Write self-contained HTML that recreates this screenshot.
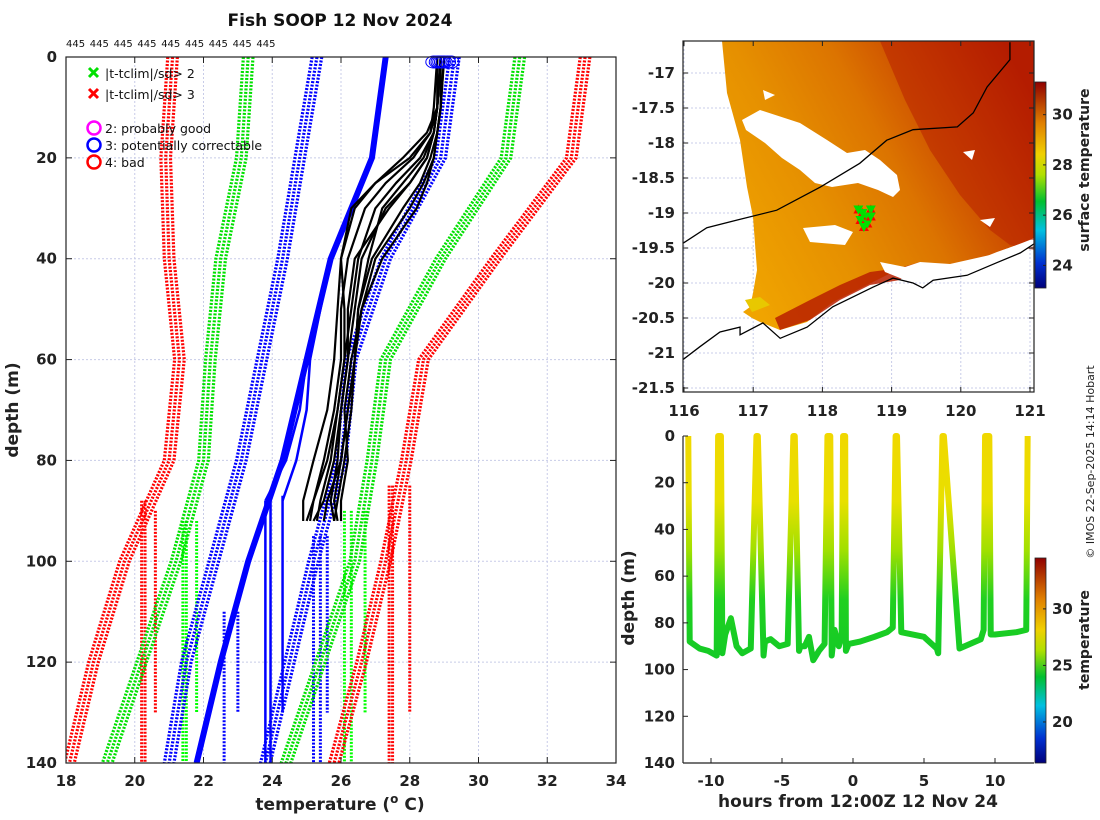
<!DOCTYPE html>
<html><head><meta charset="utf-8"><style>
html,body{margin:0;padding:0;background:#fff;}
svg{display:block;font-family:"DejaVu Sans","Liberation Sans",sans-serif;}
.tk{font-size:15px;font-weight:bold;fill:#222;}
</style></head><body>
<svg id="fig" width="1100" height="820" viewBox="0 0 1100 820" xmlns="http://www.w3.org/2000/svg">
<defs>
<linearGradient id="sstg" x1="0" y1="0.7" x2="1" y2="0.2">
<stop offset="0" stop-color="#f0a400"/><stop offset="0.3" stop-color="#e69000"/><stop offset="0.55" stop-color="#dc7400"/><stop offset="0.75" stop-color="#cc4c00"/><stop offset="1" stop-color="#b01800"/>
</linearGradient>
<linearGradient id="cb1" x1="0" y1="1" x2="0" y2="0">
<stop offset="0" stop-color="#00007a"/><stop offset="0.12" stop-color="#0030d0"/><stop offset="0.28" stop-color="#00c0e0"/><stop offset="0.42" stop-color="#00c030"/><stop offset="0.55" stop-color="#b0e000"/><stop offset="0.65" stop-color="#f0d000"/><stop offset="0.8" stop-color="#e08000"/><stop offset="1" stop-color="#900000"/>
</linearGradient>
<linearGradient id="tsg" gradientUnits="userSpaceOnUse" x1="0" y1="436" x2="0" y2="763">
<stop offset="0" stop-color="#f0d800"/><stop offset="0.2" stop-color="#e8e000"/><stop offset="0.35" stop-color="#a0e000"/><stop offset="0.5" stop-color="#20d020"/><stop offset="1" stop-color="#00c030"/>
</linearGradient>
</defs>
</svg>
<script>
// ---------- left panel data ----------
const xTicks=[18,20,22,24,26,28,30,32,34];
const yTicks=[0,20,40,60,80,100,120,140];
const climDepths=[0,20,40,60,80,100,120,140];
const redLeft=[21.1,20.9,21.0,21.3,21.0,19.7,18.8,18.1];
const redRight=[33.1,32.7,30.5,28.4,27.9,27.3,26.6,25.8];
const greenLeft=[23.3,23.1,22.5,22.2,22.0,21.2,20.2,19.2];
const greenRight=[31.2,30.8,28.9,27.3,26.9,26.4,25.4,24.4];
const blueLeft=[25.3,24.8,24.3,23.7,23.1,22.3,21.5,21.0];
const blueRight=[29.3,28.9,27.3,26.3,26.0,25.2,24.5,23.8];
const blueMean=[27.3,26.9,25.7,25.0,24.3,23.3,22.5,21.8];
const thinDepths=[0,20,40,60,70,80,88];
const thinBlueA=[27.3,26.9,25.7,25.0,24.8,24.4,23.8];
const thinBlueB=[27.3,26.9,25.7,25.1,25.0,24.7,24.3];
const verticalTemps=[20.2,20.3,20.6,21.4,21.5,21.8,22.6,23.0,25.2,25.4,25.6,26.1,26.3,26.7,27.4,27.5,28.0];
const verticalColors=["red","red","red","lime","lime","lime","blue","blue","blue","blue","blue","lime","lime","lime","red","red","red"];
const verticalTop=[88,88,90,92,92,92,110,110,95,95,95,90,90,90,85,85,85];
const verticalBottom=[140,140,130,140,140,130,140,130,140,140,130,140,140,130,140,140,130];
const solidBlueTemps=[23.8,23.95,24.3];
const solidBlueTop=[88,88,87];
const solidBlueBottom=[140,140,130];
const castDepths=[0,10,15,20,25,30,40,50,60,70,80,88,92];
const castTemps=[
[28.9,28.8,28.7,28.5,28.0,27.3,26.6,26.4,26.2,26.0,25.8,25.5,25.2],
[28.8,28.7,28.6,28.0,27.0,26.3,26.0,26.1,26.1,25.9,25.6,25.2,25.0],
[29.0,28.9,28.8,28.7,28.5,28.2,27.2,26.6,26.4,26.3,26.1,25.9,25.8],
[28.9,28.8,28.5,27.8,27.0,26.4,26.0,25.9,25.8,25.6,25.2,24.9,24.9],
[28.9,28.9,28.8,28.6,28.3,27.8,26.9,26.5,26.4,26.2,26.0,25.8,25.9],
[28.8,28.8,28.7,28.3,27.6,27.0,26.5,26.3,26.1,25.9,25.7,25.4,25.3],
[29.0,28.9,28.8,28.7,28.4,28.0,27.0,26.6,26.3,26.1,26.2,26.0,26.0],
[28.9,28.8,28.6,28.1,27.3,26.7,26.2,26.0,26.0,25.8,25.5,25.2,25.1],
[28.9,28.8,28.7,28.5,28.0,27.4,26.4,26.2,26.2,26.0,25.9,25.7,25.8],
[28.9,28.8,28.7,28.4,27.8,27.2,26.8,26.5,26.4,26.2,26.0,25.6,25.5]
];
const castSurfTemps=[28.7,28.8,28.9,29.0,29.1,29.2,28.85,28.95];
const topLabels=["445","445","445","445","445","445","445","445","445"];
// ---------- map data ----------
const lonTicks=[116,117,118,119,120,121];
const latTicks=[-17,-17.5,-18,-18.5,-19,-19.5,-20,-20.5,-21,-21.5];
const sstTicks=[24,26,28,30];
const coastLon=[115.99,116.23,116.52,116.81,116.81,117.14,117.39,117.78,118.15,118.73,119.02,119.31,119.45,119.6,120.09,120.52,120.86,121.06];
const coastLat=[-21.09,-20.91,-20.7,-20.63,-20.74,-20.57,-20.79,-20.63,-20.34,-20.06,-19.93,-20.0,-20.07,-19.96,-19.89,-19.71,-19.57,-19.44];
const isoLon=[115.99,116.33,116.77,117.34,117.97,118.54,118.93,119.31,119.95,120.18,120.38,120.71,120.71];
const isoLat=[-19.43,-19.21,-19.1,-18.96,-18.63,-18.29,-17.96,-17.81,-17.77,-17.57,-17.2,-16.81,-16.56];
const shipLon=[118.52,118.58,118.65,118.7,118.55,118.65,118.6,118.7];
const shipLat=[-18.95,-19.0,-19.05,-18.95,-19.1,-19.15,-19.2,-19.05];
// ---------- time series data ----------
const hourTicks=[-10,-5,0,5,10];
const tsDepthTicks=[0,20,40,60,80,100,120,140];
const tsTempTicks=[20,25,30];
const trackHours=[-11.6,-11.5,-10.8,-10.2,-9.6,-9.5,-9.3,-9.2,-9.0,-8.6,-8.2,-7.8,-7.2,-6.8,-6.7,-6.3,-6.2,-5.8,-5.2,-4.6,-4.2,-4.1,-3.8,-3.7,-3.4,-3.1,-2.8,-2.4,-2.0,-1.8,-1.6,-1.5,-1.3,-1.0,-0.8,-0.7,-0.55,-0.5,-0.3,0.5,1.5,2.4,2.8,3.0,3.1,3.4,5.0,5.9,6.0,6.3,6.4,7.5,9.0,9.2,9.3,9.6,9.7,10.0,11.5,12.2,12.3];
const trackDepths=[0,88,91,92,94,0,0,93,85,78,90,93,91,0,0,94,88,87,90,89,0,0,92,90,90,86,96,92,89,0,0,94,83,90,86,0,0,92,89,88,86,84,82,0,0,84,86,91,93,0,0,91,87,83,0,0,85,85,84,83,0];

const svg=document.getElementById('fig');
const NS='http://www.w3.org/2000/svg';
function mk(tag,attrs,parent){const e=document.createElementNS(NS,tag);for(const k in attrs)e.setAttribute(k,attrs[k]);(parent||svg).appendChild(e);return e;}
function txt(s,x,y,attrs,parent){const t=mk('text',Object.assign({x:x,y:y},attrs||{}),parent);t.textContent=s;return t;}
const P=a=>a.map(p=>p[0]+','+p[1]).join(' ');

// ===== LEFT PANEL =====
const L={x0:66,x1:616,y0:57,y1:763,tmin:18,tmax:34,dmax:140};
const tx=t=>L.x0+(t-L.tmin)/(L.tmax-L.tmin)*(L.x1-L.x0);
const dy=d=>L.y0+d/L.dmax*(L.y1-L.y0);
const gL=mk('g',{});


xTicks.forEach(t=>{mk('line',{x1:tx(t),x2:tx(t),y1:L.y0,y2:L.y1,stroke:'#c8cce8','stroke-dasharray':'2,2','stroke-width':1},gL);});
yTicks.forEach(d=>{mk('line',{x1:L.x0,x2:L.x1,y1:dy(d),y2:dy(d),stroke:'#c8cce8','stroke-dasharray':'2,2','stroke-width':1},gL);});
const clip=mk('clipPath',{id:'clipL'},gL);mk('rect',{x:L.x0,y:L.y0,width:L.x1-L.x0,height:L.y1-L.y0},clip);
const gc=mk('g',{'clip-path':'url(#clipL)'},gL);
function prof(arr,depths,color,w,dash,off,name){
  const pts=arr.map((t,i)=>tx(t+(off||0))+','+dy(depths[i])).join(' ');
  const p=mk('polyline',{points:pts,fill:'none',stroke:color,'stroke-width':w,'stroke-linejoin':'round'},gc);
  if(dash)p.setAttribute('stroke-dasharray',dash);
  
  
  return p;
}
verticalTemps.forEach((t,i)=>{
  const l=mk('line',{x1:tx(t),x2:tx(t),y1:dy(verticalTop[i]),y2:dy(verticalBottom[i]),stroke:verticalColors[i],'stroke-width':3,'stroke-dasharray':'2,1.5'},gc);
  
  
});
solidBlueTemps.forEach((t,i)=>{
  const l=mk('line',{x1:tx(t),x2:tx(t),y1:dy(solidBlueTop[i]),y2:dy(solidBlueBottom[i]),stroke:'#0000ff','stroke-width':2.5},gc);
  
  
});
[[redLeft,'red','red-clim-left'],[redRight,'red','red-clim-right'],[greenLeft,'#00e000','green-clim-left'],[greenRight,'#00e000','green-clim-right'],[blueLeft,'#0000ff','blue-clim-left'],[blueRight,'#0000ff','blue-clim-right']].forEach(s=>{
  [-0.14,0,0.14].forEach(o=>prof(s[0],climDepths,s[1],3.2,'2,1.5',o,s[2]));
});
prof(thinBlueA,thinDepths,'#0000ff',2.5,null,0,'climatology-thin-line-a');
prof(thinBlueB,thinDepths,'#0000ff',2.5,null,0,'climatology-thin-line-b');
prof(blueMean,climDepths,'#0000ff',6,null,0,'climatology-mean-line');
castTemps.forEach((c,i)=>prof(c,castDepths,'#000',2.2,null,0,'xbt-cast-'+(i+1)));
castSurfTemps.forEach((t,i)=>{
  const c=mk('ellipse',{cx:tx(t),cy:dy(0)+5,rx:8,ry:6,fill:'none',stroke:'#0000ff','stroke-width':1},gL);
  
  
});
mk('rect',{x:L.x0,y:L.y0,width:L.x1-L.x0,height:L.y1-L.y0,fill:'none',stroke:'#222','stroke-width':1.2},gL);
xTicks.forEach(t=>{mk('line',{x1:tx(t),x2:tx(t),y1:L.y1,y2:L.y1-6,stroke:'#222'},gL);mk('line',{x1:tx(t),x2:tx(t),y1:L.y0,y2:L.y0+6,stroke:'#222'},gL);
  const e=txt(String(t),tx(t),786,{class:'tk','text-anchor':'middle'},gL);});
yTicks.forEach(d=>{mk('line',{x1:L.x0,x2:L.x0+6,y1:dy(d),y2:dy(d),stroke:'#222'},gL);mk('line',{x1:L.x1,x2:L.x1-6,y1:dy(d),y2:dy(d),stroke:'#222'},gL);
  const e=txt(String(d),57,dy(d)+5,{class:'tk','text-anchor':'end'},gL);});
topLabels.forEach((s,i)=>{const e=txt(s,66+i*23.8,47,{'font-size':10,fill:'#111'},gL);});
let e=txt('Fish SOOP 12 Nov 2024',340,26,{'font-size':17,'font-weight':'bold','text-anchor':'middle',fill:'#111'});

e=txt('depth (m)',0,0,{'font-size':17,'font-weight':'bold','text-anchor':'middle',fill:'#222',transform:'translate(18,410) rotate(-90)'});

e=mk('text',{x:340,y:810,'font-size':17,'font-weight':'bold','text-anchor':'middle',fill:'#222'});
e.innerHTML='temperature (<tspan dy="-7" font-size="12">o</tspan><tspan dy="7"> C)</tspan>';

// legend
const lg=mk('g',{});

[['#00e000','|t-tclim|/sd> 2',73],['red','|t-tclim|/sd> 3',94]].forEach(a=>{
  const g=mk('g',{},lg);
  mk('path',{d:`M89,${a[2]-5} l9,9 M98,${a[2]-5} l-9,9`,stroke:a[0],'stroke-width':3},g);
  txt(a[1],105,a[2]+5,{'font-size':12.5,fill:'#111'},g);
});
[['magenta','2: probably good',128],['#0000ff','3: potentially correctable',145],['red','4: bad',162]].forEach(a=>{
  const g=mk('g',{},lg);
  mk('circle',{cx:94,cy:a[2],r:6.5,fill:'none',stroke:a[0],'stroke-width':2.5},g);
  txt(a[1],105,a[2]+5,{'font-size':12.5,fill:'#111'},g);
});

// ===== MAP PANEL =====
const M={x0:683,x1:1034,y0:41,y1:392};
const mx=l=>684+(l-116)*69.2;
const my=l=>73+(-17-l)*70;
const gM=mk('g',{});

const clipM=mk('clipPath',{id:'clipM'},gM);mk('rect',{x:M.x0,y:M.y0,width:M.x1-M.x0,height:M.y1-M.y0},clipM);
const gm=mk('g',{'clip-path':'url(#clipM)'},gM);
lonTicks.forEach(l=>mk('line',{x1:mx(l),x2:mx(l),y1:M.y0,y2:M.y1,stroke:'#c8cce8','stroke-dasharray':'2,2'},gm));
latTicks.forEach(l=>mk('line',{x1:M.x0,x2:M.x1,y1:my(l),y2:my(l),stroke:'#c8cce8','stroke-dasharray':'2,2'},gm));
// SST field (image approximation, pixel coords)
const field=[[722,41],[727,93],[740,140],[747,187],[753,217],[757,270],[753,293],[750,307],[743,312],[752,318],[760,322],[780,330],[807,322],[833,302],[873,282],[893,272],[913,266],[940,265],[967,264],[997,252],[1020,244],[1034,238],[1034,41]];
e=mk('polygon',{points:P(field),fill:'url(#sstg)'},gm);

e=mk('polygon',{points:P([[1034,41],[1034,250],[1010,245],[990,230],[960,195],[930,150],[905,100],[880,41]]),fill:'#b82000',opacity:0.55},gm);

e=mk('polygon',{points:P([[775,318],[810,300],[840,285],[870,272],[900,268],[920,262],[900,280],[870,285],[840,300],[810,320],[780,330]]),fill:'#b82000',opacity:0.85},gm);

e=mk('polygon',{points:P([[745,300],[760,297],[770,305],[752,312]]),fill:'#e8c800'},gm);

const holes=[
[[760,110],[800,123],[827,140],[847,153],[865,150],[880,160],[897,175],[900,190],[893,197],[878,190],[858,183],[832,187],[815,183],[800,170],[782,158],[765,143],[746,130],[742,120]],
[[803,228],[835,225],[853,232],[845,245],[810,242]],
[[763,90],[775,95],[765,100]],
[[963,152],[975,150],[972,160]],
[[980,220],[995,218],[990,227]],
[[880,262],[905,267],[920,262],[950,264],[990,255],[1030,240],[1034,240],[1034,246],[990,262],[940,272],[905,280],[885,272]]
];
holes.forEach(h=>{e=mk('polygon',{points:P(h),fill:'#fff'},gm);});
e=mk('polyline',{points:coastLon.map((l,i)=>mx(l)+','+my(coastLat[i])).join(' '),fill:'none',stroke:'#000','stroke-width':1.3},gm);

e=mk('polyline',{points:isoLon.map((l,i)=>mx(l)+','+my(isoLat[i])).join(' '),fill:'none',stroke:'#000','stroke-width':1.3},gm);

shipLon.forEach((l,i)=>{
  const x=mx(l),y=my(shipLat[i]);
  e=mk('polygon',{points:`${x-5},${y+4} ${x+5},${y+4} ${x},${y-5}`,fill:'red'},gm);
  e=mk('polygon',{points:`${x-5},${y-4} ${x+5},${y-4} ${x},${y+5}`,fill:'#00e000'},gm);
});
mk('rect',{x:M.x0,y:M.y0,width:M.x1-M.x0,height:M.y1-M.y0,fill:'none',stroke:'#222','stroke-width':1.2},gM);
lonTicks.forEach(l=>{mk('line',{x1:mx(l),x2:mx(l),y1:M.y1,y2:M.y1-5,stroke:'#222'},gM);mk('line',{x1:mx(l),x2:mx(l),y1:M.y0,y2:M.y0+5,stroke:'#222'},gM);
  e=txt(String(l),mx(l),416,{class:'tk','text-anchor':'middle'},gM);});
latTicks.forEach(l=>{mk('line',{x1:M.x0,x2:M.x0+5,y1:my(l),y2:my(l),stroke:'#222'},gM);mk('line',{x1:M.x1,x2:M.x1-5,y1:my(l),y2:my(l),stroke:'#222'},gM);
  e=txt(String(l),675,my(l)+5,{class:'tk','text-anchor':'end'},gM);});
// colorbar 1
const C1={x:1035,w:11,y0:82,y1:288,vmin:23.1,vmax:31.3};
const c1y=v=>C1.y1-(v-C1.vmin)/(C1.vmax-C1.vmin)*(C1.y1-C1.y0);
e=mk('rect',{x:C1.x,y:C1.y0,width:C1.w,height:C1.y1-C1.y0,fill:'url(#cb1)',stroke:'#222','stroke-width':0.8});

sstTicks.forEach(v=>{mk('line',{x1:C1.x+C1.w,x2:C1.x+C1.w-3,y1:c1y(v),y2:c1y(v),stroke:'#222'});
  e=txt(String(v),1052,c1y(v)+5,{class:'tk'});});
e=txt('surface temperature',0,0,{'font-size':14,'font-weight':'bold','text-anchor':'middle',fill:'#222',transform:'translate(1089,170) rotate(-90)'});


// ===== TIME SERIES PANEL =====
const T={x0:683,x1:1034,y0:436,y1:763};
const hx=h=>853+h*14.2;
const ty=d=>T.y0+d/140*(T.y1-T.y0);
const gT=mk('g',{});

e=mk('polyline',{points:trackHours.map((h,i)=>hx(h)+','+ty(trackDepths[i])).join(' '),fill:'none',stroke:'url(#tsg)','stroke-width':6,'stroke-linejoin':'round'},gT);

mk('line',{x1:T.x0,x2:T.x0,y1:T.y0,y2:T.y1,stroke:'#222','stroke-width':1.2},gT);
mk('line',{x1:T.x0,x2:T.x1,y1:T.y1,y2:T.y1,stroke:'#222','stroke-width':1.2},gT);
hourTicks.forEach(h=>{mk('line',{x1:hx(h),x2:hx(h),y1:T.y1,y2:T.y1-5,stroke:'#222'},gT);
  e=txt(String(h),hx(h),786,{class:'tk','text-anchor':'middle'},gT);});
tsDepthTicks.forEach(d=>{mk('line',{x1:T.x0,x2:T.x0+5,y1:ty(d),y2:ty(d),stroke:'#222'},gT);
  e=txt(String(d),675,ty(d)+5,{class:'tk','text-anchor':'end'},gT);});
e=txt('depth (m)',0,0,{'font-size':17,'font-weight':'bold','text-anchor':'middle',fill:'#222',transform:'translate(634,598) rotate(-90)'});

e=txt('hours from 12:00Z 12 Nov 24',858,807,{'font-size':17,'font-weight':'bold','text-anchor':'middle',fill:'#222'});

const C2={x:1035,w:11,y0:558,y1:763,vmin:16.37,vmax:34.5};
const c2y=v=>C2.y1-(v-C2.vmin)/(C2.vmax-C2.vmin)*(C2.y1-C2.y0);
e=mk('rect',{x:C2.x,y:C2.y0,width:C2.w,height:C2.y1-C2.y0,fill:'url(#cb1)',stroke:'#222','stroke-width':0.8});

tsTempTicks.forEach(v=>{mk('line',{x1:C2.x+C2.w,x2:C2.x+C2.w-3,y1:c2y(v),y2:c2y(v),stroke:'#222'});
  e=txt(String(v),1052,c2y(v)+5,{class:'tk'});});
e=txt('temperature',0,0,{'font-size':14,'font-weight':'bold','text-anchor':'middle',fill:'#222',transform:'translate(1089,640) rotate(-90)'});

e=txt('© IMOS 22-Sep-2025 14:14 Hobart',0,0,{'font-size':11,'text-anchor':'middle',fill:'#222',transform:'translate(1094,462) rotate(-90)'});

</script>
</body></html>
